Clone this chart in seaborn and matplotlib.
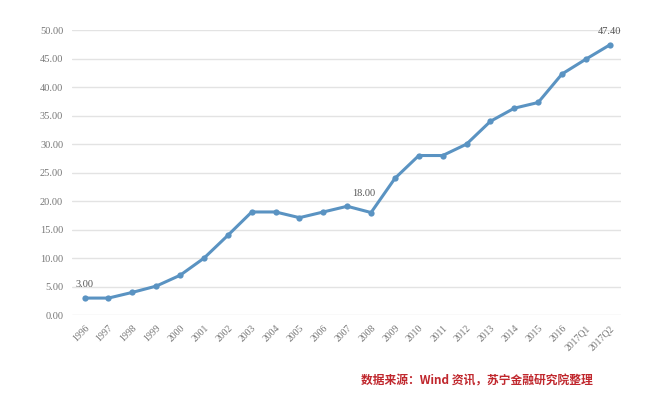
import matplotlib.pyplot as plt
import seaborn as sns
import pandas as pd

years = ['1996', '1997', '1998', '1999', '2000', '2001', '2002', '2003', '2004',
         '2005', '2006', '2007', '2008', '2009', '2010', '2011', '2012', '2013',
         '2014', '2015', '2016', '2017Q1', '2017Q2']
values = [3.0, 3.0, 4.0, 5.1, 7.0, 10.0, 14.0, 18.1, 18.1, 17.1, 18.1, 19.1,
          18.0, 24.0, 28.0, 28.0, 30.0, 34.0, 36.3, 37.3, 42.3, 44.9, 47.4]
labelled = {'1996': '3.00', '2008': '18.00', '2017Q2': '47.40'}

df = pd.DataFrame({'year': years, 'value': values})
df['pos'] = range(len(df))

sns.set_style('white')
plt.rcParams['font.family'] = ['Noto Sans CJK SC', 'DejaVu Sans']

fig = plt.figure(figsize=(6.5, 4.12), dpi=100)
ax = fig.add_axes([0.11, 0.235, 0.845, 0.692])

sns.lineplot(data=df, x='pos', y='value', ax=ax, color='#5a93c2', linewidth=2.2,
             marker='o', markersize=4.5, markeredgewidth=0)

for i, (y, v) in enumerate(zip(years, values)):
    if y in labelled:
        dx = -0.3 if y == '2008' else 0
        dy = 2.6 if y == '2008' else 1.6
        ax.text(i + dx, v + dy, labelled[y], ha='center', va='bottom', fontsize=7.5,
                color='#555555', family='Liberation Serif')

ax.set_ylim(0, 50)
ax.set_xlim(-0.55, 22.46)
ax.set_yticks(range(0, 51, 5))
ax.set_yticklabels([f'{t:.2f}' for t in range(0, 51, 5)], family='Liberation Serif',
                   fontsize=7.5, color='#777777')
ax.set_xticks(df['pos'])
ax.set_xticklabels(years, rotation=45, ha='right', rotation_mode='anchor',
                   family='Liberation Serif', fontsize=7, color='#777777')
ax.tick_params(axis='both', length=0, pad=6)
ax.grid(axis='y', color='#e3e3e3', linewidth=1)
ax.set_axisbelow(True)
for s in ax.spines.values():
    s.set_visible(False)
ax.set_xlabel('')
ax.set_ylabel('')

fig.text(0.555, 0.075, '数据来源：Wind 资讯，苏宁金融研究院整理', color='#c0272d',
         fontsize=8.5, fontweight='bold', ha='left', va='center')

fig.savefig('out.png', dpi=100)
